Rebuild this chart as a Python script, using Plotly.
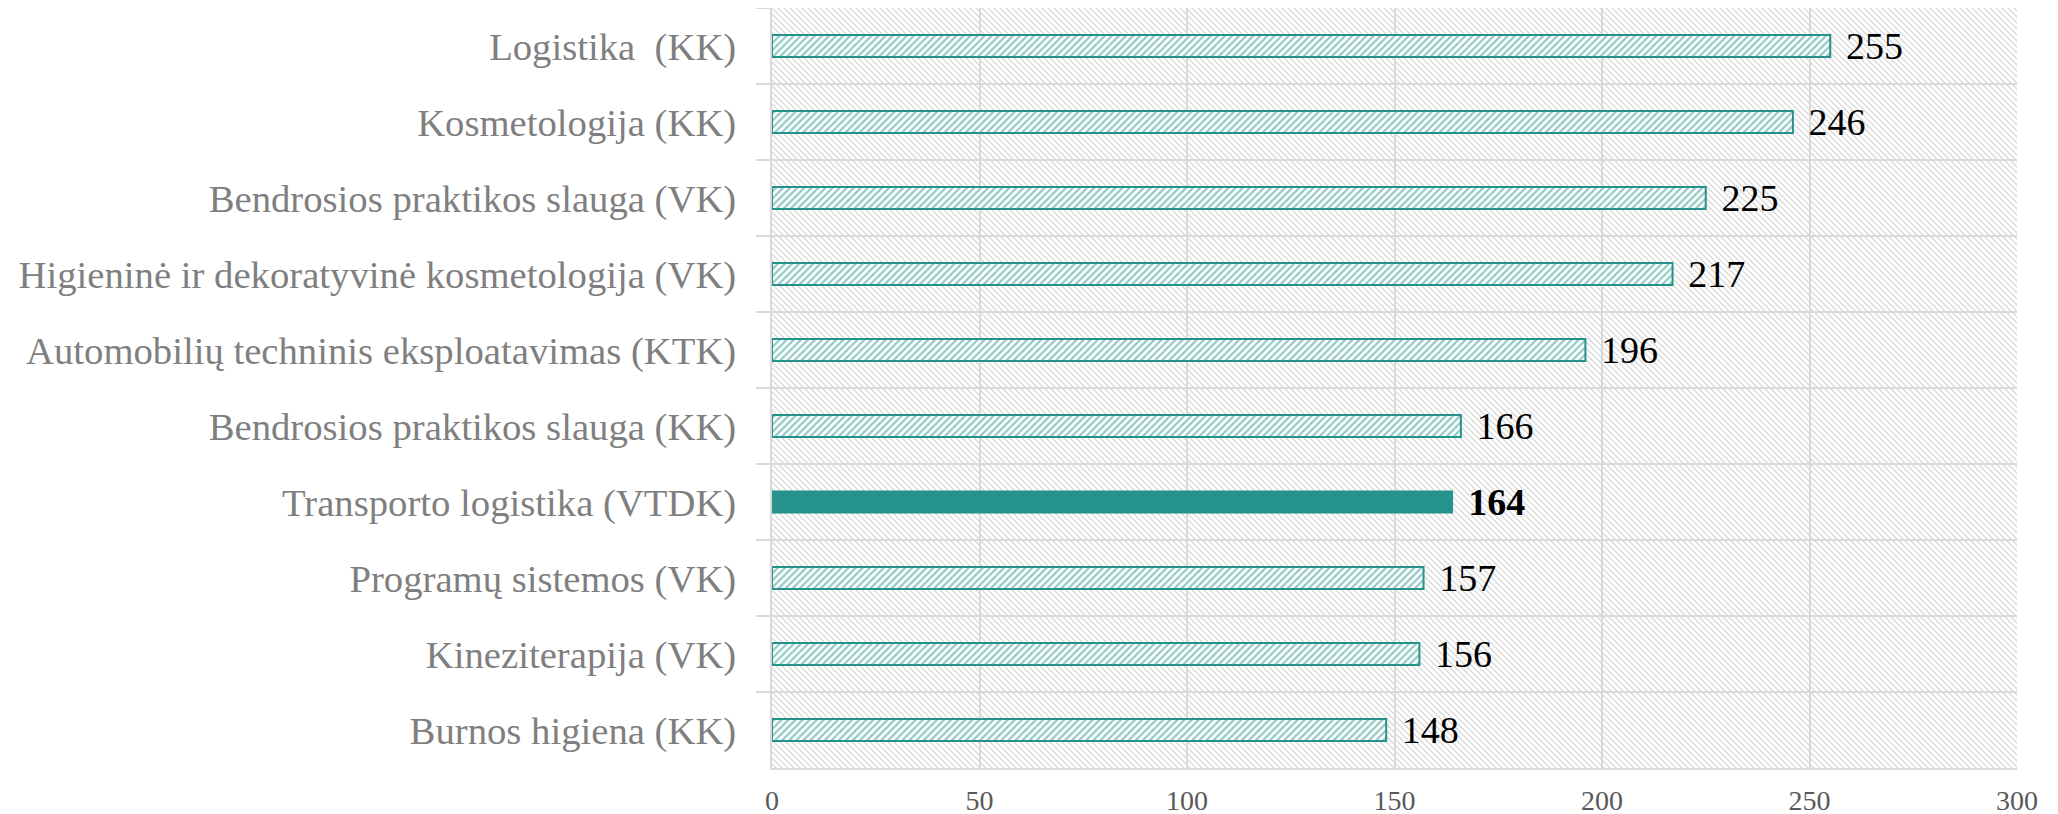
import base64
import plotly.graph_objects as go

# Data (top to bottom as displayed)
categories = [
    "Logistika  (KK)",
    "Kosmetologija (KK)",
    "Bendrosios praktikos slauga (VK)",
    "Higieninė ir dekoratyvinė kosmetologija (VK)",
    "Automobilių techninis eksploatavimas (KTK)",
    "Bendrosios praktikos slauga (KK)",
    "Transporto logistika (VTDK)",
    "Programų sistemos (VK)",
    "Kineziterapija (VK)",
    "Burnos higiena (KK)",
]
values = [255, 246, 225, 217, 196, 166, 164, 157, 156, 148]
highlight = "Transporto logistika (VTDK)"
x_ticks = [0, 50, 100, 150, 200, 250, 300]

TEAL = "#25938B"
GRID = "#d9d9d9"
FONT = "Liberation Serif"

hatched_cats = [c for c in categories if c != highlight]
hatched_vals = [v for c, v in zip(categories, values) if c != highlight]
hl_vals = [v for c, v in zip(categories, values) if c == highlight]

fig = go.Figure()
fig.add_trace(go.Bar(
    y=hatched_cats, x=hatched_vals, orientation="h",
    marker=dict(color="white", line=dict(color=TEAL, width=2),
                pattern=dict(shape="/", fgcolor=TEAL, bgcolor="white", size=5, solidity=0.45)),
    text=["\u2004" + str(v) for v in hatched_vals], textposition="outside",
    constraintext="none",
    textfont=dict(family=FONT, size=38, color="black"),
    cliponaxis=False, showlegend=False, hoverinfo="skip",
))
fig.add_trace(go.Bar(
    y=[highlight], x=hl_vals, orientation="h",
    marker=dict(color=TEAL, line=dict(color=TEAL, width=1)),
    text=["\u2004<b>" + str(v) + "</b>" for v in hl_vals], textposition="outside",
    constraintext="none",
    textfont=dict(family=FONT, size=38, color="black"),
    cliponaxis=False, showlegend=False, hoverinfo="skip",
))

# Hatched plot-area background
W, H = 1245, 760
svg = (
    f"<svg xmlns='http://www.w3.org/2000/svg' width='{W}' height='{H}'>"
    "<defs><pattern id='p' width='6' height='6' patternUnits='userSpaceOnUse'>"
    "<path d='M-1,-1 L7,7 M-7,-1 L1,7 M5,-1 L13,7' stroke='#d8d8d8' stroke-width='1.3'/>"
    "</pattern></defs>"
    "<rect width='100%' height='100%' fill='white'/>"
    "<rect width='100%' height='100%' fill='url(#p)'/></svg>"
)
src = "data:image/svg+xml;base64," + base64.b64encode(svg.encode()).decode()
fig.add_layout_image(dict(source=src, xref="paper", yref="paper", x=0, y=1,
                          sizex=1, sizey=1, sizing="stretch", layer="below",
                          xanchor="left", yanchor="top"))

fig.update_layout(
    width=2058, height=814,
    margin=dict(l=764, r=49, t=0, b=54, autoexpand=False),
    paper_bgcolor="white", plot_bgcolor="rgba(0,0,0,0)",
    barmode="overlay", bargap=0.71,
    font=dict(family=FONT),
)
fig.update_xaxes(
    range=[0, 300], tickvals=x_ticks, ticktext=[str(t) for t in x_ticks],
    showgrid=True, gridcolor=GRID, gridwidth=2,
    showline=True, linecolor=GRID, linewidth=2,
    ticks="", zeroline=False, automargin=False,
    tickfont=dict(family=FONT, size=28, color="#595959"),
    ticklabelstandoff=6,
)
fig.update_yaxes(
    categoryorder="array", categoryarray=categories, autorange="reversed",
    tickson="boundaries", ticks="outside", ticklen=14, tickcolor=GRID, tickwidth=2,
    showgrid=True, gridcolor=GRID, gridwidth=2,
    showline=True, linecolor=GRID, linewidth=2, automargin=False,
    tickfont=dict(family=FONT, size=38.7, color="#7f7f7f"),
    ticklabelstandoff=26,
)

fig.write_html("out.html")
